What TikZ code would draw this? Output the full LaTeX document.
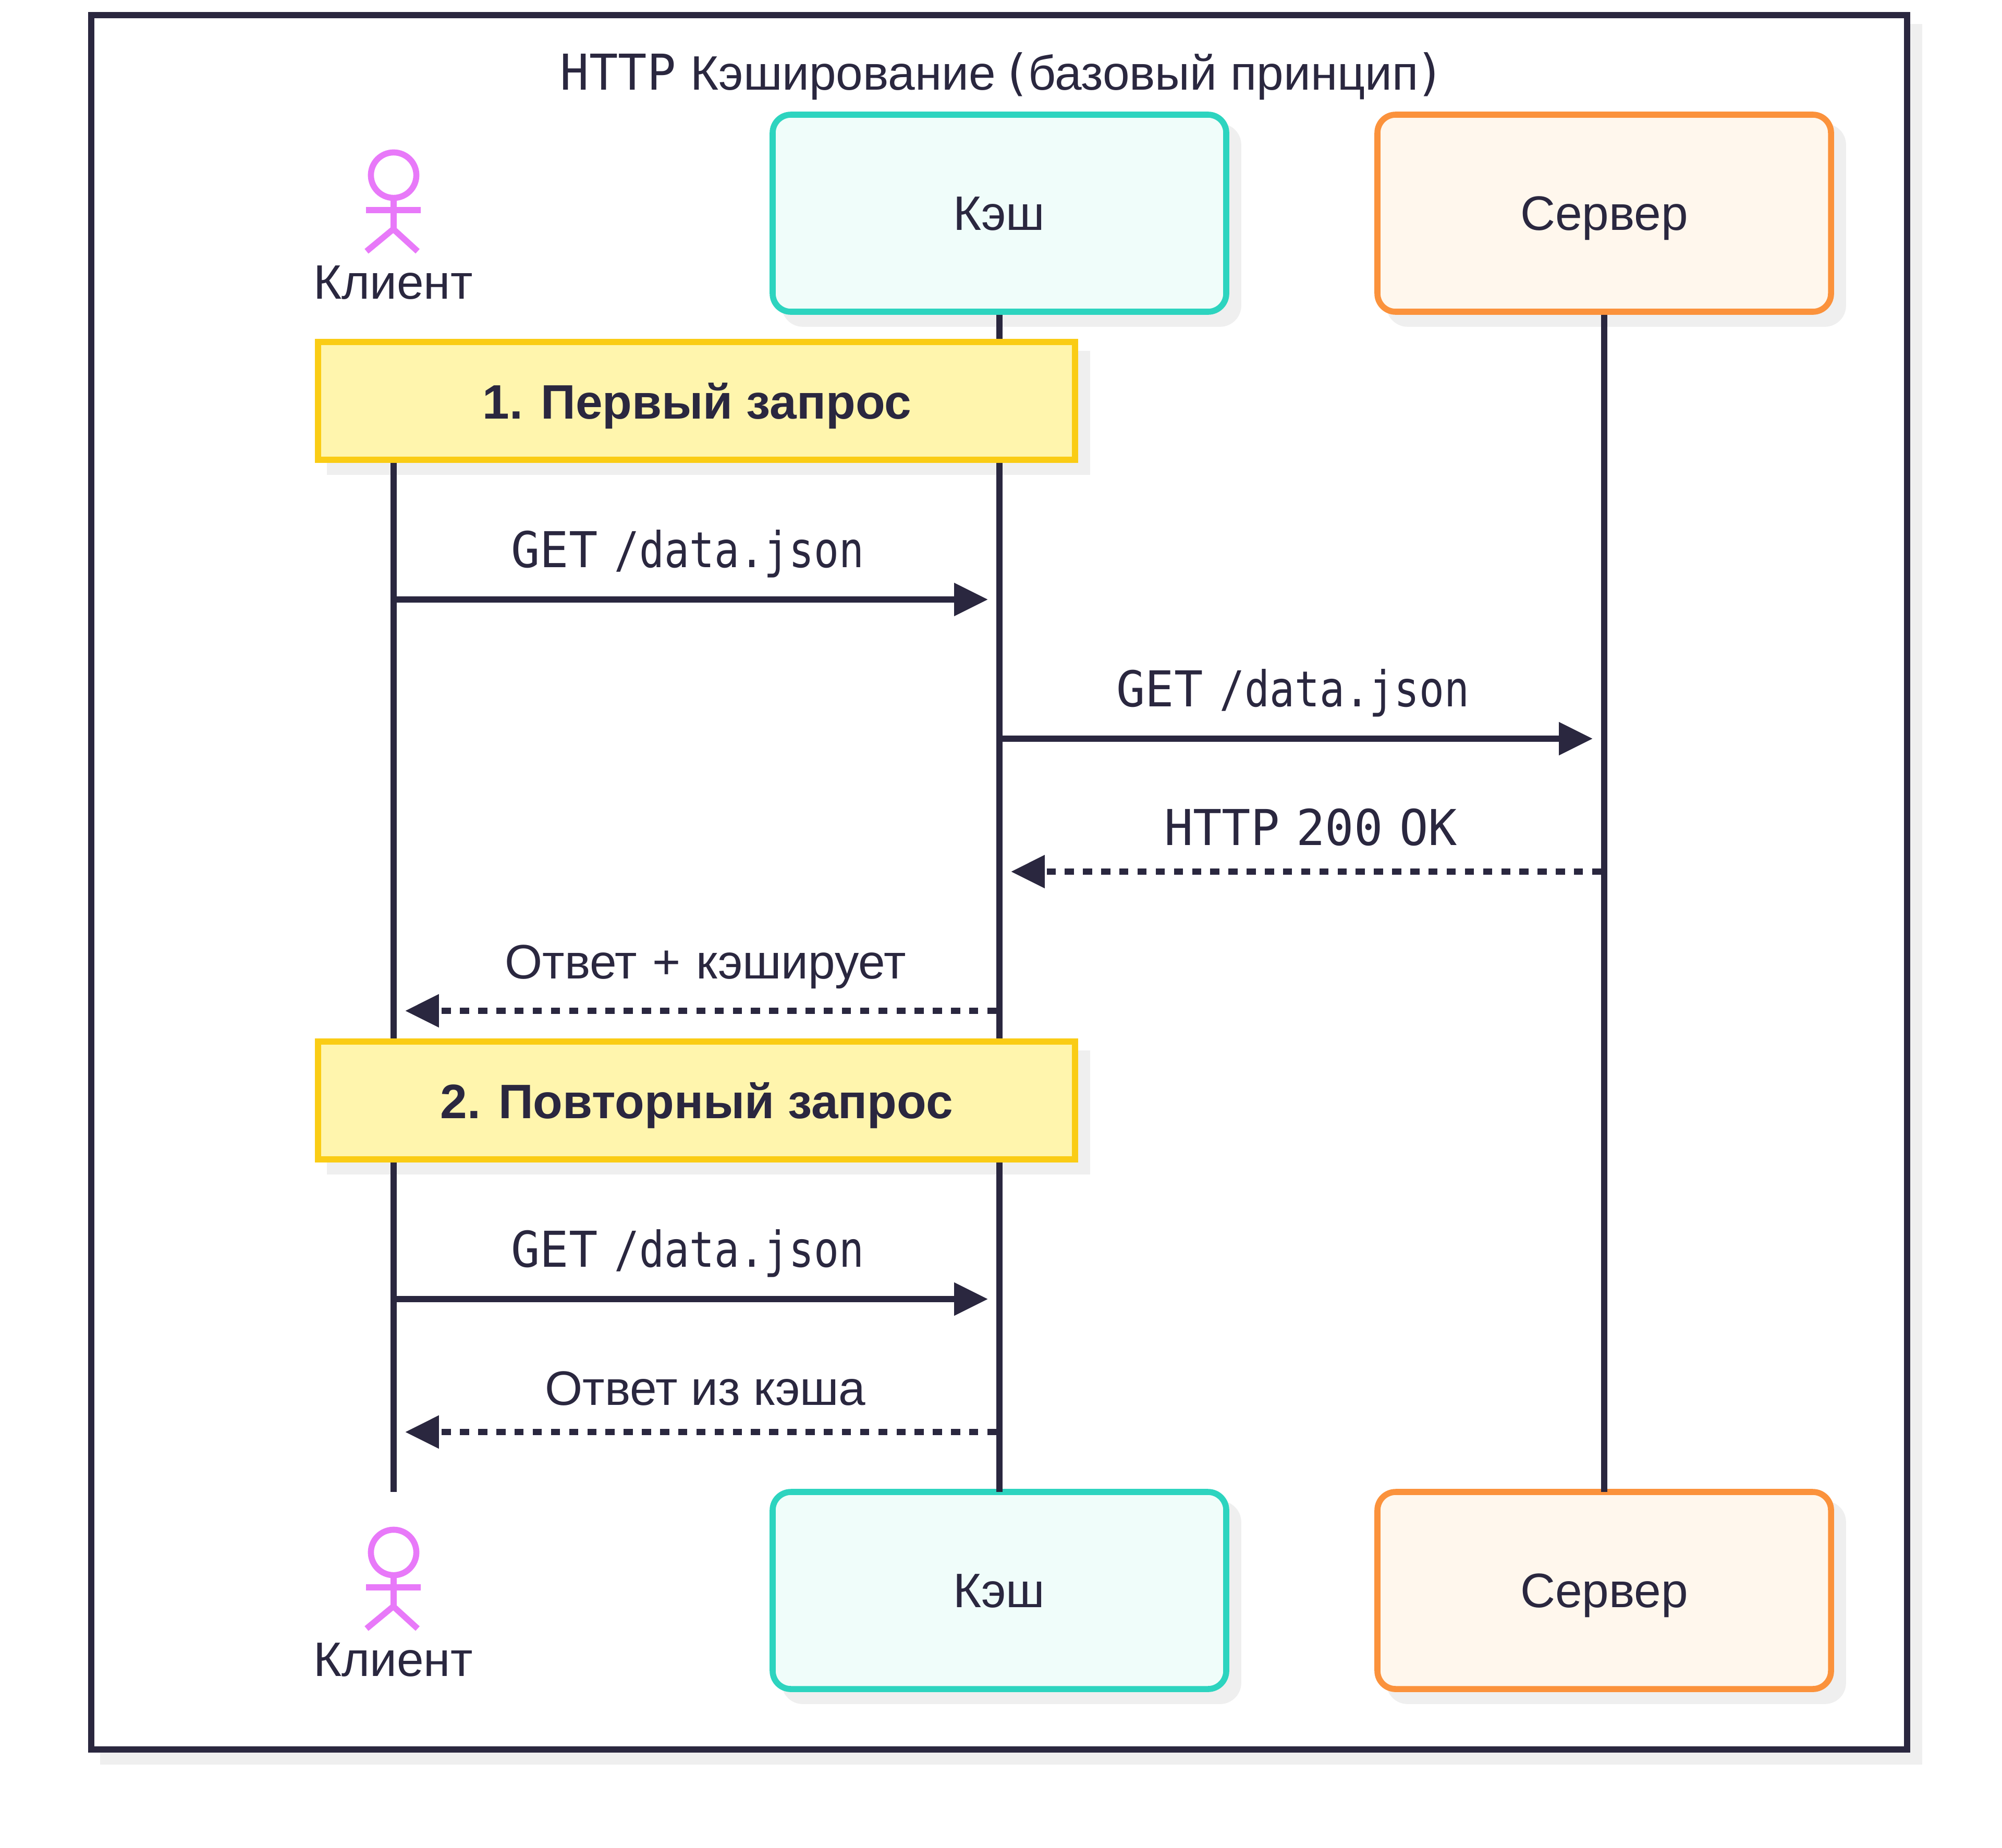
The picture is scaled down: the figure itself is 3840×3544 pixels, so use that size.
\documentclass[tikz,border=0pt]{standalone}
\usepackage{fontspec}
\usetikzlibrary{arrows.meta}
\setmainfont{Liberation Sans}
\newfontfamily\monofam[FakeStretch=0.84]{DejaVu Sans Mono}
\newfontfamily\capfam[FakeStretch=0.97]{DejaVu Sans Mono}
\definecolor{ink}{HTML}{2A273F}
\definecolor{shade}{HTML}{EFEFEF}
\definecolor{tealS}{HTML}{2DD4BF}
\definecolor{tealF}{HTML}{F0FDFA}
\definecolor{orS}{HTML}{FB923C}
\definecolor{orF}{HTML}{FFF7ED}
\definecolor{yeS}{HTML}{FACC15}
\definecolor{yeF}{HTML}{FFF5AD}
\definecolor{viol}{HTML}{E879F9}
\tikzset{
  x=0.25pt,y=-0.25pt,
  every node/.style={text=ink,inner sep=0pt,outer sep=0pt,font=\fontsize{23.2}{27}\selectfont},
  lbl/.style={anchor=base},
  mono/.style={anchor=base,font=\fontsize{23.7}{27}\selectfont\monofam},
  boldlbl/.style={anchor=base,font=\fontsize{23.2}{27}\selectfont\bfseries},
  pbox/.style={rectangle,rounded corners=8.7pt,minimum width=217.5pt,minimum height=94.5pt,line width=2.9pt},
  cachebox/.style={pbox,draw=tealS,fill=tealF},
  serverbox/.style={pbox,draw=orS,fill=orF},
  shadowbox/.style={pbox,fill=shade,draw=shade},
  notebox/.style={rectangle,draw=yeS,fill=yeF,line width=2.9pt,minimum width=363pt,minimum height=56.5pt},
  noteshadow/.style={rectangle,draw=shade,fill=shade,line width=2.9pt,minimum width=363pt,minimum height=56.5pt},
  life/.style={draw=ink,line width=2.9pt},
  lifetop/.style={life,shorten <=1.45pt},
  msg/.style={draw=ink,line width=2.9pt,shorten >=5.5pt,-{Triangle[length=16.2pt,width=15.2pt,color=ink]}},
  back/.style={msg,dash pattern=on 4.36pt off 4.36pt,dash phase=7.3pt},
  man/.style={draw=viol,line width=2.9pt},
}
\newcommand{\capt}[1]{{\fontsize{23.7}{27}\selectfont\capfam #1}}
\begin{document}
\begin{tikzpicture}
\useasboundingbox (0,0) rectangle (3840,3544);
% frame
\draw[draw=shade,line width=2.9pt,fill=shade] (198,52) rectangle (3681,3379);
\draw[draw=ink,line width=2.9pt,fill=white] (175,29) rectangle (3658,3356);
\node[lbl] (title) at (1923,172) {\capt{HTTP}\hspace{0.6pt} Кэширование\hspace{-3.6pt} \capt{(}\hspace{-1.2pt}базовый принцип\hspace{-1.2pt}\capt{)}};
% shadows
\node[shadowbox] (sh1) at (1940,432) {};
\node[shadowbox] (sh2) at (3100,432) {};
\node[shadowbox] (sh3) at (1940,3074) {};
\node[shadowbox] (sh4) at (3100,3074) {};
\node[noteshadow] (sh5) at (1359,792) {};
\node[noteshadow] (sh6) at (1359,2134) {};
% participant boxes
\node[cachebox] (cacheT) at (1917,409) {};
\node[serverbox] (serverT) at (3077,409) {};
\node[cachebox] (cacheB) at (1917,3051) {};
\node[serverbox] (serverB) at (3077,3051) {};
\node[lbl] (cacheTl) at (1916,441) {Кэш};
\node[lbl] (serverTl) at (3077,441) {Сервер};
\node[lbl] (cacheBl) at (1916,3083) {Кэш};
\node[lbl] (serverBl) at (3077,3083) {Сервер};
% lifelines
\coordinate (clientTop) at (755,700);
\coordinate (clientEnd) at (755,2862);
\draw[life] (clientTop) -- (clientEnd);
\draw[lifetop] (cacheT.south) -- (cacheB.north);
\draw[lifetop] (serverT.south) -- (serverB.north);
% notes
\node[notebox] (note1) at (1336,769) {};
\node[notebox] (note2) at (1336,2111) {};
\node[boldlbl] (note1l) at (1337,803) {1. Первый запрос};
\node[boldlbl] (note2l) at (1336,2145) {2. Повторный запрос};
% actors
\foreach \n/\dy in {A/0,B/2642}{
  \draw[man] (755,{336+\dy}) circle (10.9pt);
  \draw[man] (755,{385+\dy}) -- (755,{440+\dy});
  \draw[man] (702,{403+\dy}) -- (807,{403+\dy});
  \draw[man] (703,{482+\dy}) -- (755,{439+\dy});
  \draw[man] (801,{482+\dy}) -- (755,{440+\dy});
}
\node[lbl] (clientT) at (754,573) {Клиент};
\node[lbl] (clientB) at (754,3215) {Клиент};
% messages
\coordinate (a1) at (755,1150); \coordinate (b1) at (1917,1150);
\coordinate (a2) at (1917,1417); \coordinate (b2) at (3077,1417);
\coordinate (a3) at (3077,1672); \coordinate (b3) at (1917,1672);
\coordinate (a4) at (1917,1939); \coordinate (b4) at (755,1939);
\coordinate (a5) at (755,2492); \coordinate (b5) at (1917,2492);
\coordinate (a6) at (1917,2747); \coordinate (b6) at (755,2747);
\draw[msg] (a1) -- (b1);
\draw[msg] (a2) -- (b2);
\draw[back] (a3) -- (b3);
\draw[back] (a4) -- (b4);
\draw[msg] (a5) -- (b5);
\draw[back] (a6) -- (b6);
\node[mono] (m1) at (1319,1088) {\capt{GET}\hspace{-4pt} /data.json};
\node[mono] (m2) at (2480,1355) {\capt{GET}\hspace{-4pt} /data.json};
\node[mono] (m3) at (2514,1621) {\capt{HTTP\hspace{-5.9pt} 200\hspace{-5.9pt} OK}};
\node[lbl] (m4) at (1353,1877) {Ответ\hspace{0.9pt} + \hspace{0.9pt}кэширует};
\node[mono] (m5) at (1319,2430) {\capt{GET}\hspace{-4pt} /data.json};
\node[lbl] (m6) at (1353,2695) {Ответ из кэша};
\end{tikzpicture}
\end{document}
